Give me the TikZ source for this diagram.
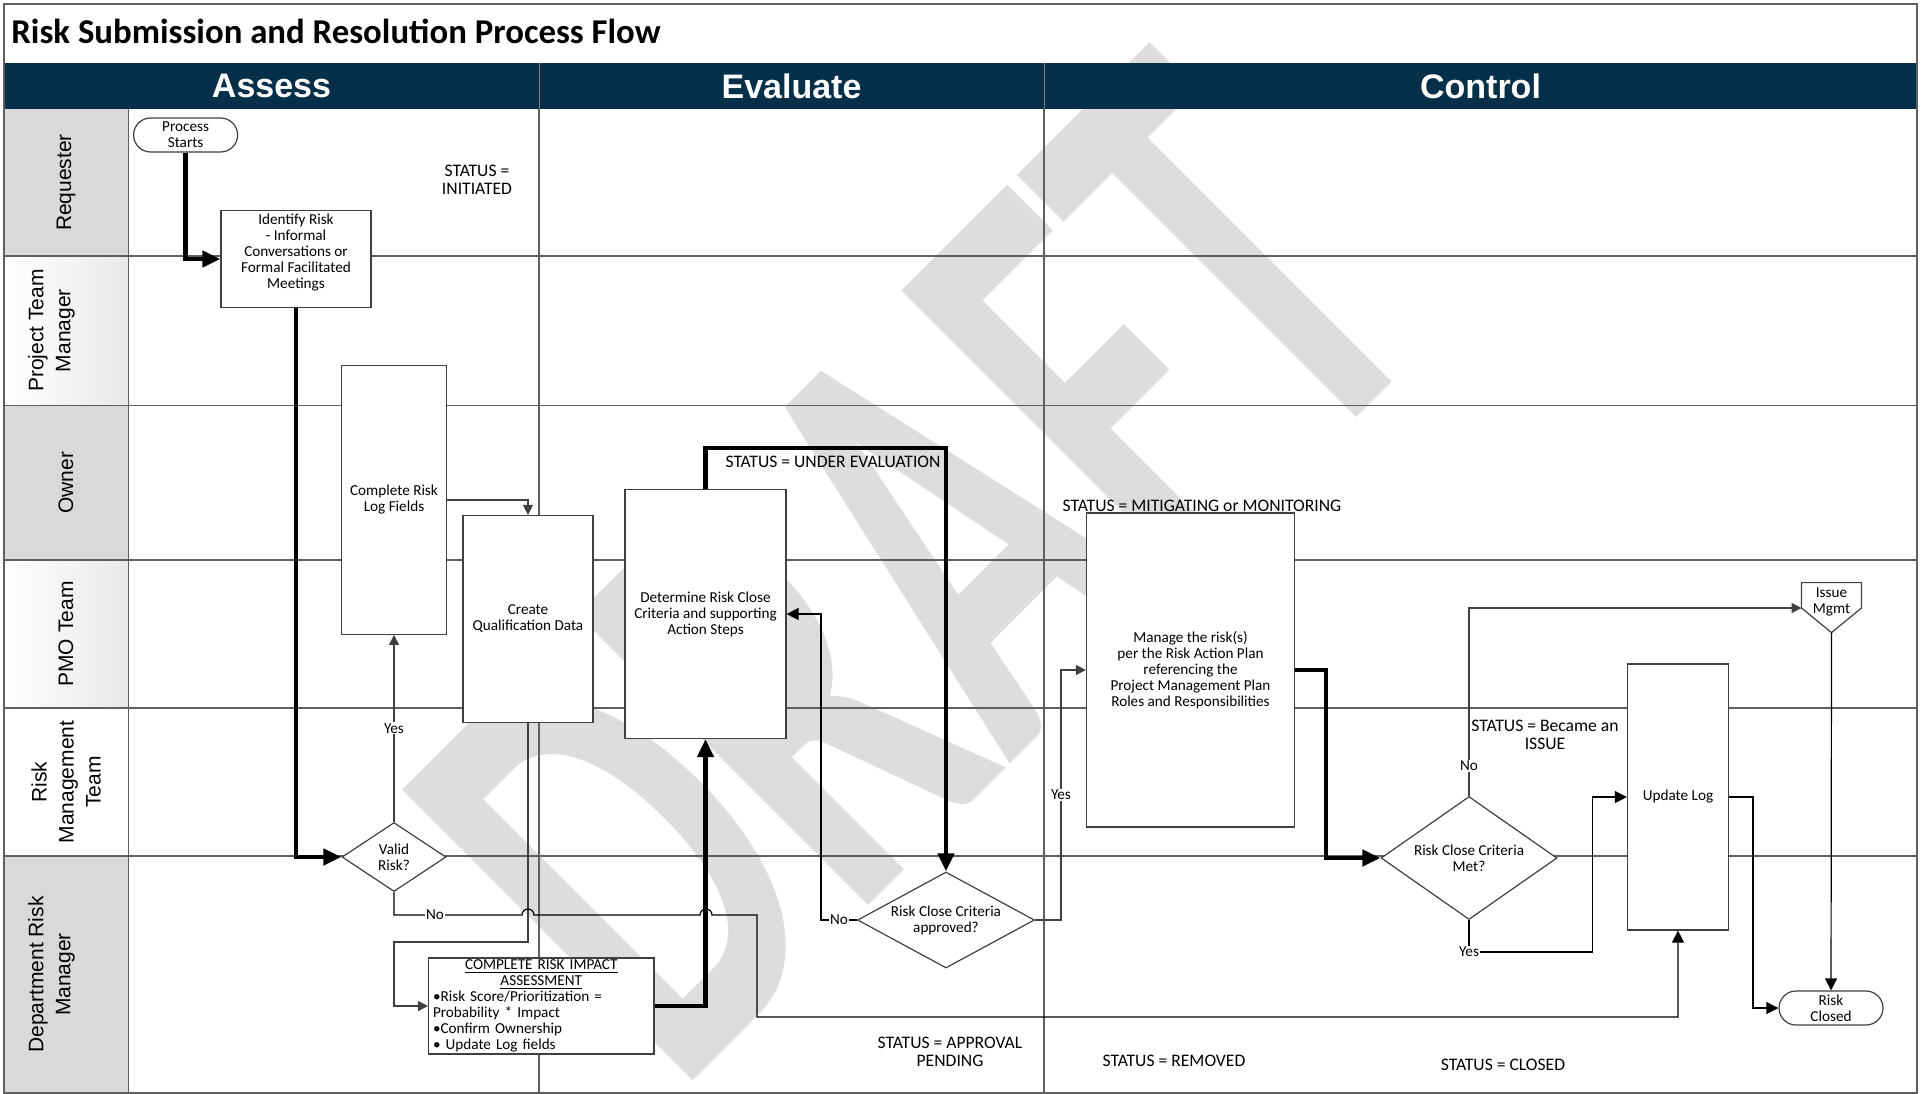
\documentclass[tikz,border=0pt]{standalone}
\usepackage{fontspec}
\setmainfont{Carlito}
\setsansfont{Liberation Sans}
\usetikzlibrary{shapes.geometric,arrows.meta}
\definecolor{headblue}{HTML}{06304A}
\definecolor{lanegray}{HTML}{5F5F5F}
\definecolor{boxgray}{HTML}{404040}
\definecolor{cellgray}{HTML}{D9D9D9}
\definecolor{wmgray}{HTML}{DDDDDD}
\newcommand\flowfont{\fontsize{7.6}{8}\selectfont}
\newcommand\statusfont{\fontsize{8.8}{9.2}\selectfont}
\newcommand\lanefont{\sffamily\fontsize{10.5}{13.5}\selectfont}
\tikzset{
  proc/.style={draw=boxgray, line width=0.6pt, fill=white, font=\flowfont, align=center, inner sep=1pt},
  decide/.style={proc, diamond, inner sep=0pt},
  term/.style={proc, rounded corners=8.5pt, minimum width=52pt, minimum height=17pt, inner sep=0.5pt},
  status/.style={font=\statusfont, align=center, inner sep=0pt},
  lbl/.style={font=\flowfont, fill=white, inner sep=0.5pt},
  flow/.style={draw=boxgray, line width=0.6pt, -{Triangle[length=5pt,width=5pt]}},
  flowk/.style={draw=black, line width=0.6pt, -{Triangle[length=6pt,width=6pt]}},
  mainflow/.style={draw=black, line width=2.4pt, -{Triangle[length=9pt,width=8pt]}},
  lane/.style={draw=lanegray, line width=0.7pt},
  lanelabel/.style={font=\lanefont, rotate=90, align=center},
}
\begin{document}
\begin{tikzpicture}[x=0.5pt, y=-0.5pt]
  \useasboundingbox (0,0) rectangle (1921,1093);
  % lane label cells
  \fill[cellgray] (4,109) rectangle (128.6,256);
  \shade[left color=white, right color=cellgray!60] (4,256) rectangle (128.6,405.5);
  \fill[cellgray] (4,405.5) rectangle (128.6,560);
  \shade[left color=white, right color=cellgray!60] (4,560) rectangle (128.6,708);
  \fill[cellgray] (4,856) rectangle (128.6,1093);
  % watermark
  \node[rotate=45, xscale=0.62, font=\bfseries\fontsize{317}{317}\selectfont, text=wmgray, anchor=base east, inner sep=0pt] (wm) at (1443,331) {DRAFT};
  % header band
  \fill[headblue] (4,63) rectangle (1917,109);
  \draw[gray, line width=0.5pt] (539,63) -- (539,109) (1044,63) -- (1044,109);
  \node[font=\sffamily\bfseries\fontsize{17}{20}\selectfont, text=white] (hassess) at (271.5,86) {Assess};
  \node[font=\sffamily\bfseries\fontsize{17}{20}\selectfont, text=white] (heval) at (791.5,86) {Evaluate};
  \node[font=\sffamily\bfseries\fontsize{17}{20}\selectfont, text=white] (hcontrol) at (1480.5,86) {Control};
  \node[anchor=base west, inner sep=0pt, font=\bfseries\fontsize{17.4}{20}\selectfont] (title) at (11,43) {Risk Submission and Resolution Process Flow};
  % lanes
  \foreach \y in {256,405.5,560,708,856}
    \draw[lane] (4,\y) -- (1917,\y);
  \draw[lane] (128.6,109) -- (128.6,1093);
  \draw[lane] (539,109) -- (539,1093);
  \draw[lane] (1044,109) -- (1044,1093);
  \draw[draw=lanegray, line width=1pt] (4,4) rectangle (1917,1093);
  \node[lanelabel] (lreq) at (66,182.5) {Requester};
  \node[lanelabel] (lptm) at (51.5,330.7) {Project Team\\Manager};
  \node[lanelabel] (lown) at (66,482.7) {Owner};
  \node[lanelabel] (lpmo) at (66,634) {PMO Team};
  \node[lanelabel] (lrmt) at (66,782) {Risk\\Management\\Team};
  \node[lanelabel] (ldrm) at (51.5,974.5) {Department Risk\\Manager};
  % steps
  \node[term] (start) at (185.6,135) {Process\\Starts};
  \node[proc, minimum width=75pt, minimum height=48.5pt, inner sep=0pt] (identify) at (296,259) {Identify Risk\\- Informal\\Conversations or\\Formal Facilitated\\Meetings\\\mbox{}};
  \node[proc, minimum width=52.2pt, minimum height=134.3pt] (complete) at (394,500) {Complete Risk\\Log Fields};
  \node[proc, minimum width=65pt, minimum height=103.5pt] (create) at (528,619) {Create\\Qualification Data};
  \node[decide, minimum width=52pt, minimum height=34.5pt, aspect=1.5] (valid) at (394,857) {Valid\\Risk?};
  \node[proc, minimum width=112.7pt, minimum height=48pt, text width=108.3pt, inner xsep=2.2pt, inner ysep=0pt, align=left] (impact) at (541.3,1006)
    {{\centering\underline{COMPLETE RISK IMPACT}\\\underline{ASSESSMENT}\par}•Risk Score/Prioritization =\\Probability * Impact\\•Confirm Ownership\\• Update Log fields};
  \node[proc, minimum width=80.5pt, minimum height=124.5pt] (determine) at (705.5,614) {Determine Risk Close\\Criteria and supporting\\Action Steps};
  \node[decide, minimum width=88.5pt, minimum height=48pt, aspect=1.84] (approved) at (946,920) {Risk Close Criteria\\approved?};
  \node[proc, minimum width=104pt, minimum height=157pt] (manage) at (1190.5,670) {Manage the risk(s)\\per the Risk Action Plan\\referencing the\\Project Management Plan\\Roles and Responsibilities};
  \node[decide, minimum width=88pt, minimum height=61.5pt, aspect=1.43] (met) at (1469,858) {Risk Close Criteria\\Met?};
  \node[proc, minimum width=50.5pt, minimum height=133pt] (update) at (1678,797) {Update Log};
  \draw[draw=boxgray, line width=0.6pt, fill=white] (1801.5,582.6) -- (1861.5,582.6) -- (1861.5,608) -- (1831.5,632.6) -- (1801.5,608) -- cycle;
  \node[font=\flowfont, align=center, inner sep=0pt] (issue) at (1831.5,602) {Issue\\Mgmt};
  \coordinate (issuein) at (1801.5,608);
  \coordinate (issuetip) at (1831.5,632.6);
  \node[term] (closed) at (1831,1008) {Risk\\Closed};
  % status texts
  \node[status] (stinit) at (477,180) {STATUS =\\INITIATED};
  \node[status] (steval) at (833,462) {STATUS = UNDER EVALUATION};
  \node[status] (stmitig) at (1202,506) {STATUS = MITIGATING or MONITORING};
  \node[status] (stissue) at (1545,735) {STATUS = Became an\\ISSUE};
  \node[status] (stpend) at (950,1052) {STATUS = APPROVAL\\PENDING};
  \node[status] (stremov) at (1174,1061) {STATUS = REMOVED};
  \node[status] (stclosed) at (1503,1065) {STATUS = CLOSED};
  % connectors
  \coordinate (qualturn) at (394,942);
  \coordinate (evaltop) at (946,448);
  \coordinate (noback) at (821,920);
  \coordinate (yesup) at (1061,920);
  \coordinate (mgturn) at (1326,858);
  \coordinate (yesturn) at (1592.6,952);
  \coordinate (updturn) at (1753,797);
  \coordinate (hopq) at (528,915);
  \coordinate (hopm) at (706,915);
  \coordinate (noturn) at (757,1017);
  \draw[mainflow] (start.south) |- (identify.west);
  \draw[mainflow] (identify.south) |- (valid.west);
  \draw[flow] (valid.north) -- node[lbl]{Yes} (complete.south);
  \draw[flow] (complete.east) -| (create.north);
  \draw[flow] (create.south) |- (qualturn) |- (impact.west);
  \draw[flowk] (valid.south) |- node[lbl, pos=0.66]{No} ([xshift=-3pt]hopq) arc[start angle=180, end angle=360, radius=6]
    -- ([xshift=-3pt]hopm) arc[start angle=180, end angle=360, radius=6] -| (noturn) -| (update.south);
  \draw[mainflow] (impact.east) -| (determine.south);
  \draw[mainflow] (determine.north) |- (evaltop) -- (approved.north);
  \draw[flowk] (approved.west) -- node[lbl]{No} (noback) |- (determine.east);
  \draw[flow] (approved.east) -- (yesup) |- node[lbl, pos=0.25]{Yes} (manage.west);
  \draw[mainflow] (manage.east) -| (mgturn) -- (met.west);
  \draw[flow] (met.north) |- node[lbl, pos=0.08]{No} (issuein);
  \draw[flowk] (met.south) |- node[lbl]{Yes} (yesturn) |- (update.west);
  \draw[flowk] (update.east) -- (updturn) |- (closed.west);
  \draw[flowk] (issuetip) -- (closed.north);
\end{tikzpicture}
\end{document}
